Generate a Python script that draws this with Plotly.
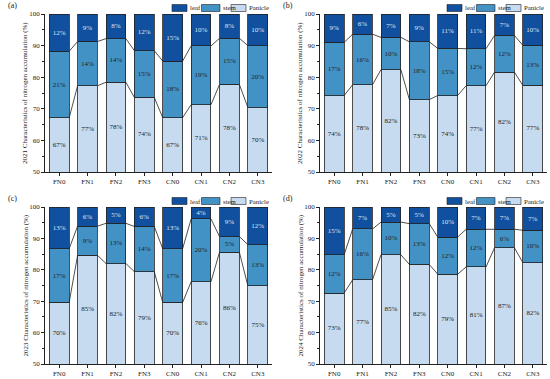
import plotly.graph_objects as go

categories = ["FN0", "FN1", "FN2", "FN3", "CN0", "CN1", "CN2", "CN3"]
years = ["2021", "2022", "2023", "2024"]
panel_tags = ["(a)", "(b)", "(c)", "(d)"]
series_names = ["Panicle", "stem", "leaf"]

panicle_2021 = [67.1, 77.3, 78.4, 73.6, 67.2, 71.3, 77.7, 70.4]
stem_2021 = [21.1, 14.0, 13.8, 14.8, 17.9, 18.6, 14.6, 19.6]
leaf_2021 = [11.8, 8.7, 7.8, 11.6, 14.9, 10.1, 7.7, 10.0]

panicle_2022 = [74.2, 77.6, 82.4, 72.9, 74.2, 77.3, 81.6, 77.4]
stem_2022 = [16.8, 16.0, 10.2, 18.3, 14.9, 11.7, 11.6, 12.7]
leaf_2022 = [9.0, 6.4, 7.4, 8.8, 10.9, 11.0, 6.8, 9.9]

panicle_2023 = [69.6, 84.6, 82.0, 79.4, 69.6, 76.2, 85.6, 74.9]
stem_2023 = [17.1, 9.3, 12.8, 14.4, 17.1, 20.0, 5.0, 13.1]
leaf_2023 = [13.3, 6.1, 5.2, 6.2, 13.3, 3.8, 9.4, 12.0]

panicle_2024 = [72.6, 76.8, 84.8, 81.7, 78.6, 80.9, 87.0, 82.3]
stem_2024 = [12.2, 16.2, 10.4, 13.0, 11.8, 12.0, 5.9, 10.3]
leaf_2024 = [15.2, 7.0, 4.8, 5.3, 9.6, 7.1, 7.1, 7.4]

y_ticks = [50, 60, 70, 80, 90, 100]
Y_MIN, Y_MAX = 50, 100

panels = [
    (panicle_2021, stem_2021, leaf_2021),
    (panicle_2022, stem_2022, leaf_2022),
    (panicle_2023, stem_2023, leaf_2023),
    (panicle_2024, stem_2024, leaf_2024),
]

colors = {"Panicle": "#C6DBEF", "stem": "#4292C6", "leaf": "#11509E"}
text_colors = {"Panicle": "#222222", "stem": "#222222", "leaf": "#DCE6F4"}
FONT = "Liberation Serif, Times New Roman, serif"
INK = "#222222"
W, H = 550, 379
BAR_W = 0.7

# panel plot-area pixel boxes (left, right, top, bottom)
boxes = [(45, 272, 14, 172), (320, 547, 14, 172), (45, 272, 207, 364), (320, 547, 207, 364)]

fig = go.Figure()
annotations = []
shapes = []
xs = list(range(len(categories)))

for p, (vals, box) in enumerate(zip(panels, boxes)):
    suffix = "" if p == 0 else str(p + 1)
    xref, yref = "x" + suffix, "y" + suffix
    panicle, stem, leaf = vals
    for name, v in zip(series_names, (panicle, stem, leaf)):
        show_text = name != "Panicle"
        fig.add_trace(go.Bar(
            x=xs, y=v, name=name, width=BAR_W,
            marker=dict(color=colors[name], line=dict(color=INK, width=0.8)),
            texttemplate="%{y:.0f}%" if show_text else None,
            textposition="inside" if show_text else "none",
            insidetextanchor="middle", textangle=0, constraintext="none",
            insidetextfont=dict(family=FONT, size=7, color=text_colors[name]),
            xaxis=xref, yaxis=yref, showlegend=False, hoverinfo="skip",
        ))
    # panicle labels centred in the visible part of the bar
    fig.add_trace(go.Scatter(
        x=xs, y=[(Y_MIN + v) / 2 for v in panicle], mode="text",
        text=[f"{v:.0f}%" for v in panicle],
        textfont=dict(family=FONT, size=7, color=text_colors["Panicle"]),
        xaxis=xref, yaxis=yref, showlegend=False, hoverinfo="skip",
    ))
    # connecting lines between adjacent bars at stacked boundaries
    lx, ly = [], []
    for lev in range(2):
        for i in range(len(categories) - 1):
            c0 = panicle[i] + (stem[i] if lev == 1 else 0)
            c1 = panicle[i + 1] + (stem[i + 1] if lev == 1 else 0)
            lx += [xs[i] + BAR_W / 2, xs[i + 1] - BAR_W / 2, None]
            ly += [c0, c1, None]
    fig.add_trace(go.Scatter(x=lx, y=ly, mode="lines", line=dict(color=INK, width=0.8),
                             xaxis=xref, yaxis=yref, showlegend=False, hoverinfo="skip"))

    l, r, t, b = box
    dom_x = [l / W, r / W]
    dom_y = [1 - b / H, 1 - t / H]
    ax_common = dict(showline=True, linecolor=INK, linewidth=0.8, ticks="outside",
                     tickcolor=INK, ticklen=3, tickwidth=0.8, showgrid=False, zeroline=False,
                     tickfont=dict(family=FONT, size=7, color=INK), automargin=False)
    fig.layout["xaxis" + suffix] = dict(domain=dom_x, range=[-0.5, len(categories) - 0.5],
                                        tickvals=xs, ticktext=categories, anchor=yref, **ax_common)
    fig.layout["yaxis" + suffix] = dict(domain=dom_y, range=[Y_MIN, Y_MAX], tickvals=y_ticks,
                                        anchor=xref,
                                        minor=dict(ticks="outside", ticklen=2, tickcolor=INK,
                                                   dtick=5, tick0=0, showgrid=False),
                                        **ax_common)
    # y-axis title
    annotations.append(dict(text=f"{years[p]} Characteristics of nitrogen accumulation (%)",
                            xref="paper", yref="paper", x=(l - 20) / W, y=1 - (t + b) / 2 / H,
                            xanchor="center", yanchor="middle", textangle=-90, showarrow=False,
                            font=dict(family=FONT, size=7, color=INK)))
    # panel tag
    annotations.append(dict(text=panel_tags[p], xref="paper", yref="paper", x=(l - 39) / W,
                            y=1 - (t - 8.5) / H, xanchor="left", yanchor="middle", showarrow=False,
                            font=dict(family=FONT, size=8, color=INK)))
    # custom legend
    leg_items = [("leaf", 127, 142, 143), ("stem", 156.5, 175, 176), ("Panicle", 186, 201, 202)]
    for name, s0, s1, tx in leg_items:
        shapes.append(dict(type="rect", xref="paper", yref="paper", layer="below",
                           x0=(l + s0) / W, x1=(l + s1) / W,
                           y0=1 - (t - 2.5) / H, y1=1 - (t - 9.5) / H,
                           fillcolor=colors[name], line=dict(color=INK, width=0.6)))
        annotations.append(dict(text=name, xref="paper", yref="paper", x=(l + tx) / W,
                                y=1 - (t - 6) / H, xanchor="left", yanchor="middle",
                                showarrow=False, font=dict(family=FONT, size=6.8, color=INK)))

fig.update_layout(
    width=W, height=H, barmode="stack",
    margin=dict(l=0, r=0, t=0, b=0),
    paper_bgcolor="white", plot_bgcolor="white",
    annotations=annotations, shapes=shapes, showlegend=False,
    font=dict(family=FONT, color=INK),
)

fig.write_html("out.html", config={"displayModeBar": False},
               post_script="document.body.style.margin='0';")
